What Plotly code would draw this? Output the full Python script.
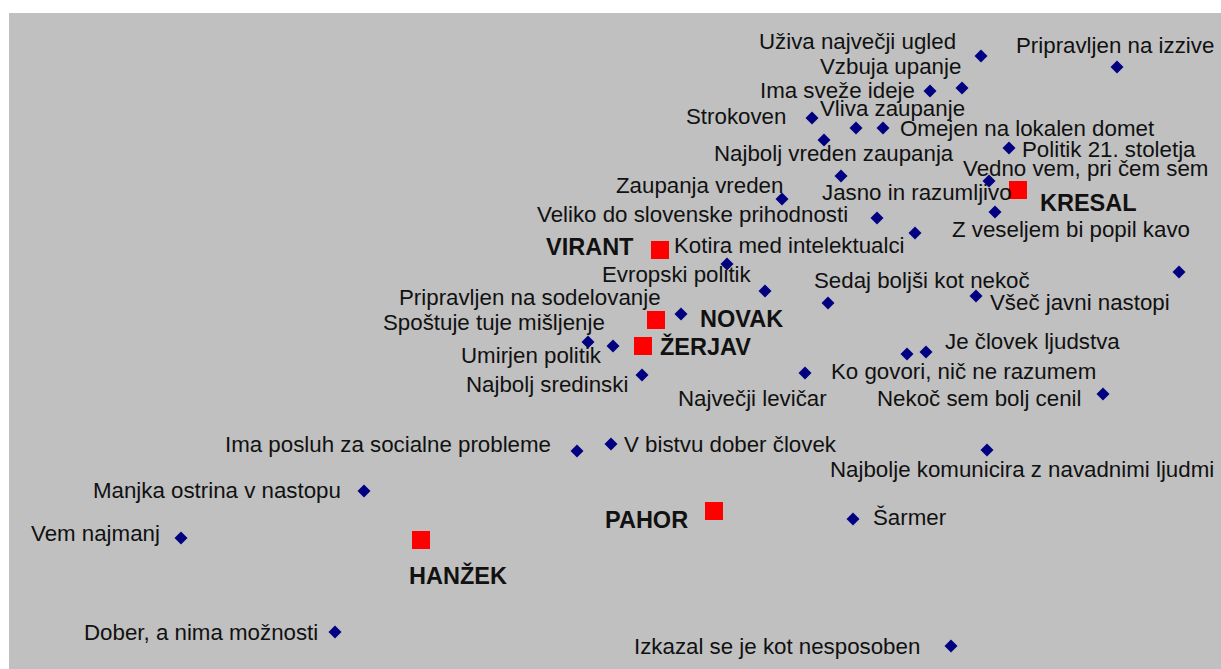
import plotly.graph_objects as go

# Attribute positions on the perceptual map (map units)
attributes = [
    "Uživa največji ugled", "Pripravljen na izzive", "Vzbuja upanje", "Ima sveže ideje",
    "Strokoven", "Vliva zaupanje", "Omejen na lokalen domet", "Najbolj vreden zaupanja",
    "Politik 21. stoletja", "Jasno in razumljivo", "Vedno vem, pri čem sem", "Zaupanja vreden",
    "Z veseljem bi popil kavo", "Veliko do slovenske prihodnosti", "Kotira med intelektualci",
    "Evropski politik", "Pripravljen na sodelovanje", "Sedaj boljši kot nekoč", "Všeč javni nastopi",
    "Spoštuje tuje mišljenje", "Umirjen politik", "Je človek ljudstva", "Ko govori, nič ne razumem",
    "Najbolj sredinski", "Največji levičar", "Nekoč sem bolj cenil", "Ima posluh za socialne probleme",
    "V bistvu dober človek", "Najbolje komunicira z navadnimi ljudmi", "Manjka ostrina v nastopu",
    "Šarmer", "Vem najmanj", "Dober, a nima možnosti", "Izkazal se je kot nesposoben", "", "",
]
attr_x = [981, 1117, 962, 930, 812, 856, 883, 824, 1009, 841, 989, 782, 995, 877, 915,
          727, 681, 828, 976, 588, 613, 926, 907, 642, 805, 1103, 577, 611, 987, 364,
          853, 181, 335, 951, 765, 1179]
attr_y = [56, 67, 88, 91, 118, 128, 128, 140, 148, 176, 181, 199, 212, 218, 233,
          264, 314, 303, 296, 342, 346, 352, 354, 375, 373, 394, 451, 444, 450, 491,
          519, 538, 632, 646, 291, 272]

# Politicians
politicians = ["KRESAL", "VIRANT", "NOVAK", "ŽERJAV", "PAHOR", "HANŽEK"]
pol_x = [1018, 660, 656, 643, 714, 421]
pol_y = [190, 250, 320, 346, 511, 540]

# Label placement (anchor, dx px, dy px) - layout only
attr_label_pos = [
    ("right", -23, -15), ("center", -2, -22), ("right", 1, -22), ("right", -13, -1),
    ("right", -24, -2), ("left", -38, -20), ("left", 15, 0), ("center", 10, 13),
    ("left", 11, 1), ("left", -21, 16), ("left", -28, -13), ("right", 3, -14),
    ("left", -45, 17), ("right", -27, -4), ("right", -8, 12), ("right", 27, 10),
    ("right", -18, -17), ("left", -16, -23), ("left", 12, 6), ("right", 19, -20),
    ("right", -9, 9), ("left", 17, -11), ("left", -78, 17), ("right", -12, 9),
    ("right", 24, 25), ("right", -20, 4), ("right", -24, -7), ("left", 11, 0),
    ("left", -159, 19), ("right", -21, -1), ("left", 18, -2), ("right", -19, -5),
    ("right", -15, 0), ("right", -29, 0), ("left", 0, 0), ("left", 0, 0),
]
pol_label_pos = [
    ("left", 20, 13), ("right", -24, -3), ("left", 42, -1), ("left", 15, 0),
    ("right", -24, 9), ("left", -14, 35),
]

fig = go.Figure()
fig.add_trace(go.Scatter(
    x=attr_x, y=attr_y, mode="markers",
    marker=dict(symbol="diamond", size=10, color="#000080", line=dict(width=0)),
    hovertext=attributes, hoverinfo="text", showlegend=False,
))
fig.add_trace(go.Scatter(
    x=pol_x, y=pol_y, mode="markers",
    marker=dict(symbol="square", size=18, color="#FF0000", line=dict(width=0)),
    hovertext=politicians, hoverinfo="text", showlegend=False,
))

annotations = []
for name, x, y, (anc, dx, dy) in zip(attributes, attr_x, attr_y, attr_label_pos):
    if not name:
        continue
    annotations.append(dict(
        x=x, y=y, text=name, showarrow=False, xanchor=anc, yanchor="middle",
        xshift=dx, yshift=-dy,
        font=dict(family="Liberation Sans, Arial", size=22.3, color="#111111"),
    ))
for name, x, y, (anc, dx, dy) in zip(politicians, pol_x, pol_y, pol_label_pos):
    annotations.append(dict(
        x=x, y=y, text="<b>" + name + "</b>", showarrow=False, xanchor=anc, yanchor="middle",
        xshift=dx, yshift=-dy,
        font=dict(family="Liberation Sans, Arial", size=23.5, color="#111111"),
    ))

fig.update_layout(
    width=1221, height=669, autosize=False,
    margin=dict(l=9, r=0, t=13, b=0, pad=0),
    paper_bgcolor="white", plot_bgcolor="#C0C0C0",
    xaxis=dict(range=[9, 1221], visible=False, showgrid=False, zeroline=False, fixedrange=True),
    yaxis=dict(range=[669, 13], visible=False, showgrid=False, zeroline=False, fixedrange=True),
    annotations=annotations,
    hovermode="closest",
)

fig.write_html(
    "out.html",
    config={"displayModeBar": False},
    post_script="document.body.style.margin='0';document.body.style.overflow='hidden';",
)
